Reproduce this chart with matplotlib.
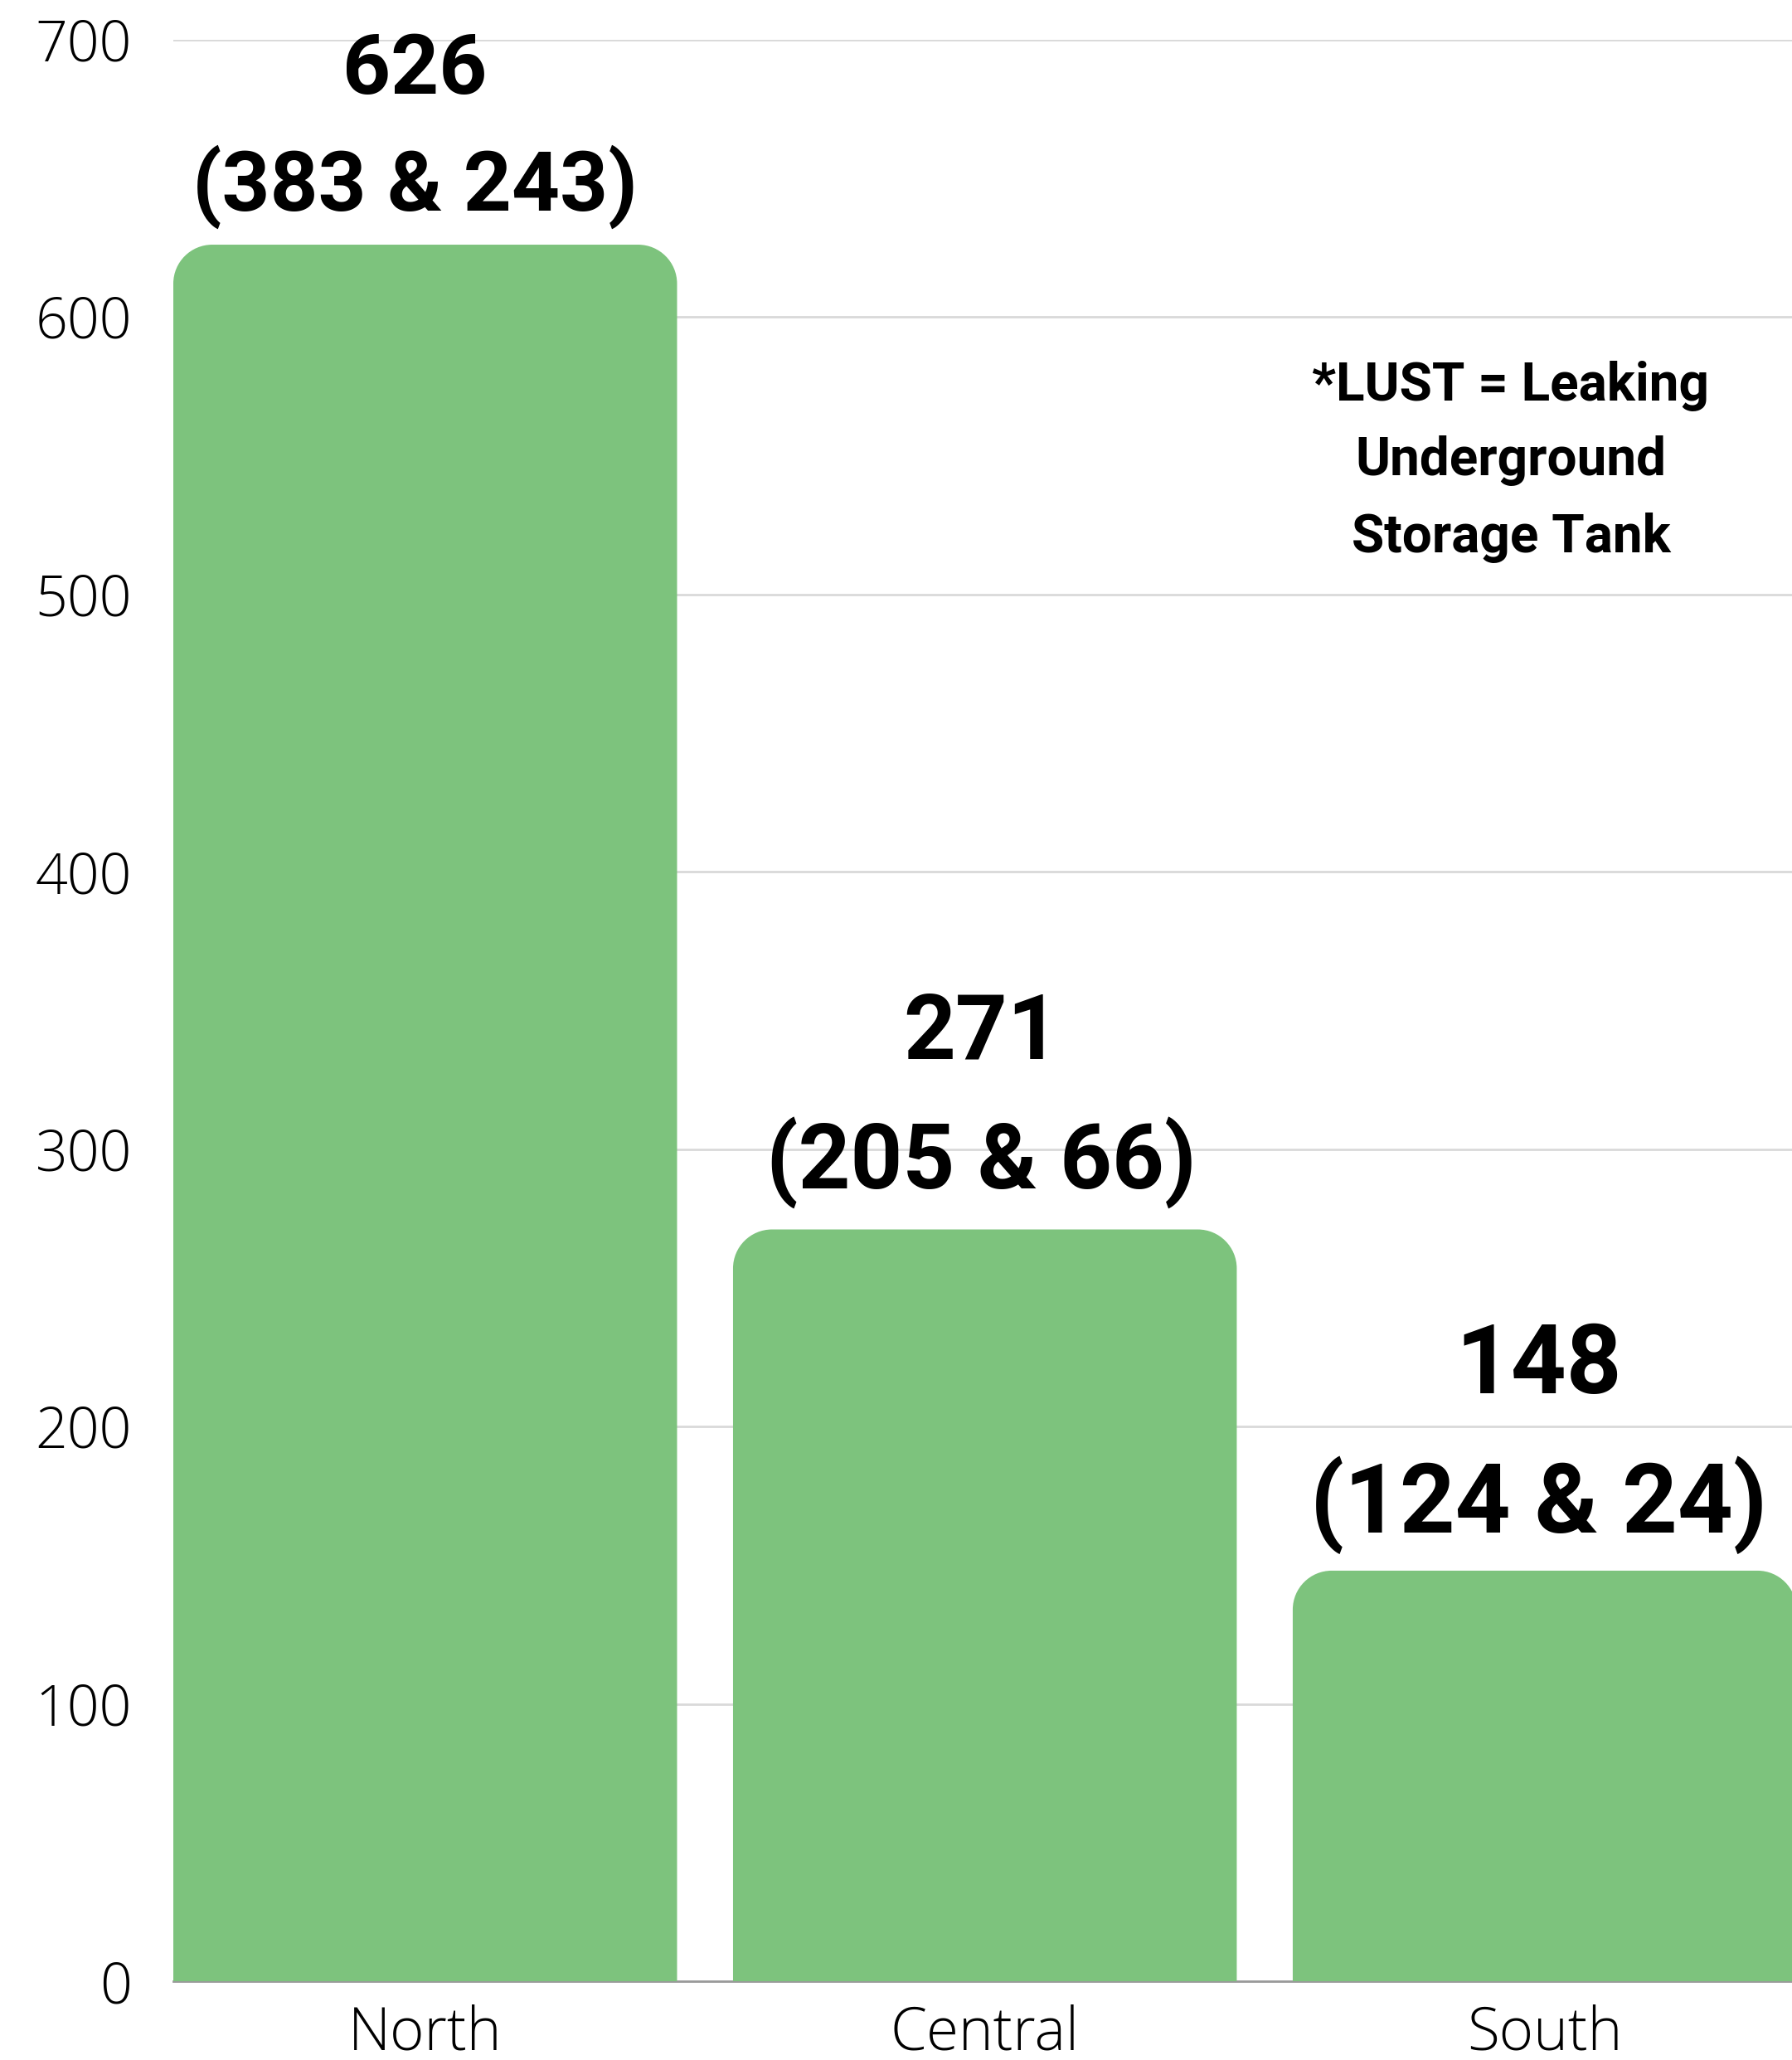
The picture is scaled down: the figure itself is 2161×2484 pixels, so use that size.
import matplotlib
matplotlib.use('Agg')
import matplotlib.pyplot as plt
from matplotlib.path import Path
from matplotlib.patches import PathPatch

# ---- data ----
regions = ['North', 'Central', 'South']
totals = [626, 271, 148]
part_a = [383, 205, 124]
part_b = [243, 66, 24]
yticks = [0, 100, 200, 300, 400, 500, 600, 700]
note_lines = ['*LUST = Leaking', 'Underground', 'Storage Tank']

# ---- style ----
W, H = 2161, 2484
GREEN = '#7DC37D'
BOLD_FAM = ['Roboto', 'Liberation Sans', 'DejaVu Sans']
LIGHT_FAM = ['Open Sans', 'DejaVu Sans']
val_sizes = [73, 79, 84]
line1_off = [151, 170, 177]
line2_off = [50, 58, 57]
label_dx = [-9, -3, -5]

fig = plt.figure(figsize=(W / 100, H / 100), dpi=100)
ax_left, ax_bottom, ax_top = 209, 2389, 47.5
ax = fig.add_axes([ax_left / W, (H - ax_bottom) / H, 1 - ax_left / W, (ax_bottom - ax_top) / H])

x = list(range(len(regions)))
bars = ax.bar(x, totals, width=0.9, color=GREEN, zorder=2)
ax.set_xlim(-0.45, 2.442)
ax.set_ylim(0, 700)

# rounded top corners
ax_w_px = W - ax_left
ax_h_px = ax_bottom - ax_top
xr = ax.get_xlim()
px_per_x = ax_w_px / (xr[1] - xr[0])
px_per_y = ax_h_px / 700.0
r_px = 47
rx = r_px / px_per_x
ry = r_px / px_per_y
k = 0.5523
for rect in bars:
    x0 = rect.get_x()
    x1 = x0 + rect.get_width()
    h = rect.get_height()
    verts = [
        (x0, 0), (x0, h - ry),
        (x0, h - ry + k * ry), (x0 + rx - k * rx, h), (x0 + rx, h),
        (x1 - rx, h),
        (x1 - rx + k * rx, h), (x1, h - ry + k * ry), (x1, h - ry),
        (x1, 0), (x0, 0),
    ]
    codes = [Path.MOVETO, Path.LINETO,
             Path.CURVE4, Path.CURVE4, Path.CURVE4,
             Path.LINETO,
             Path.CURVE4, Path.CURVE4, Path.CURVE4,
             Path.LINETO, Path.CLOSEPOLY]
    rect.set_visible(False)
    ax.add_patch(PathPatch(Path(verts, codes), facecolor=GREEN, edgecolor='none', zorder=2))

# grid & spines
ax.set_axisbelow(True)
ax.yaxis.grid(True, color='#D9D9D9', linewidth=2)
ax.xaxis.grid(False)
for s in ['top', 'right', 'left']:
    ax.spines[s].set_visible(False)
ax.spines['bottom'].set_color('#9A9A9A')
ax.spines['bottom'].set_linewidth(2)
ax.spines['bottom'].set_zorder(1)

ax.set_yticks(yticks)
ax.set_yticklabels([str(t) for t in yticks], family=LIGHT_FAM, fontweight='light',
                   fontsize=49, color='black')
ax.set_xticks(x)
ax.set_xticklabels(regions, family=LIGHT_FAM, fontweight='light', fontsize=51, color='black')
ax.tick_params(axis='y', length=0, pad=36)
ax.tick_params(axis='x', length=0, pad=20)

# value labels
for i in x:
    ax.annotate(str(totals[i]), xy=(i, totals[i]), xytext=(label_dx[i], line1_off[i]),
                textcoords='offset points', ha='center', va='center',
                family=BOLD_FAM, fontweight='bold', fontsize=val_sizes[i],
                annotation_clip=False)
    ax.annotate(f'({part_a[i]} & {part_b[i]})', xy=(i, totals[i]),
                xytext=(label_dx[i], line2_off[i]),
                textcoords='offset points', ha='center', va='center',
                family=BOLD_FAM, fontweight='bold', fontsize=val_sizes[i],
                annotation_clip=False)

# note
note_y_px = [466, 556, 648]
for line, yp in zip(note_lines, note_y_px):
    fig.text(1822 / W, 1 - yp / H, line, ha='center', va='center',
             family=BOLD_FAM, fontweight='bold', fontsize=46)

fig.savefig('out.png', dpi=100)
